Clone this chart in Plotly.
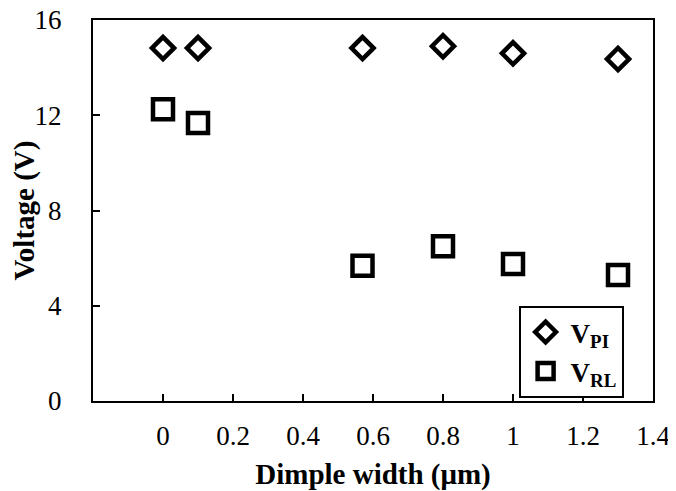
import plotly.graph_objects as go

dimple_width = [0, 0.1, 0.57, 0.8, 1.0, 1.3]
v_pi = [14.82, 14.82, 14.82, 14.9, 14.6, 14.36]
v_rl = [12.25, 11.67, 5.68, 6.5, 5.75, 5.29]
x_ticks = [0, 0.2, 0.4, 0.6, 0.8, 1, 1.2, 1.4]
x_tick_text = ["0", "0.2", "0.4", "0.6", "0.8", "1", "1.2", "1.4"]
y_ticks = [0, 4, 8, 12, 16]

FONT = "Liberation Serif, Times New Roman, serif"

fig = go.Figure()
fig.add_trace(go.Scatter(
    x=dimple_width, y=v_pi, mode="markers", name="<b>V<sub>PI</sub></b>",
    legendgroup="a",
    marker=dict(symbol="diamond-open", size=17, color="black", line=dict(width=4.5, color="black")),
))
fig.add_trace(go.Scatter(
    x=dimple_width, y=v_rl, mode="markers", name="<b>V<sub>RL</sub></b>",
    legendgroup="b",
    marker=dict(symbol="square-open", size=20, color="black", line=dict(width=4.5, color="black")),
))

fig.update_layout(
    width=668, height=483,
    margin=dict(l=85, r=23, t=12, b=90, autoexpand=False),
    paper_bgcolor="white", plot_bgcolor="white",
    font=dict(family=FONT, size=26, color="black"),
    showlegend=True,
    legend=dict(
        x=0.760, y=0.008, xanchor="left", yanchor="bottom",
        bordercolor="black", borderwidth=2, bgcolor="white",
        font=dict(family=FONT, size=27, color="black"),
        tracegroupgap=1, traceorder="grouped",
        itemwidth=40,
    ),
    xaxis=dict(
        range=[-0.2, 1.4], tickvals=x_ticks, ticktext=x_tick_text,
        ticks="inside", ticklen=7, tickwidth=2, tickcolor="black",
        showline=True, linecolor="black", linewidth=2, mirror=True,
        showgrid=False, zeroline=False, ticklabelstandoff=10, automargin=False,
        ticklabeloverflow="allow",
        tickfont=dict(family=FONT, size=27),
        title=dict(text="<b>Dimple width (μm)</b>", font=dict(family=FONT, size=29), standoff=15),
    ),
    yaxis=dict(
        range=[0, 16], tickvals=y_ticks,
        ticks="inside", ticklen=7, tickwidth=2, tickcolor="black",
        showline=True, linecolor="black", linewidth=2, mirror=True,
        showgrid=False, zeroline=False, ticklabelstandoff=24, automargin=False,
        ticklabeloverflow="allow",
        tickfont=dict(family=FONT, size=27),
        title=dict(text="<b>Voltage (V)</b>", font=dict(family=FONT, size=29), standoff=12),
    ),
)

fig.write_html("out.html")
